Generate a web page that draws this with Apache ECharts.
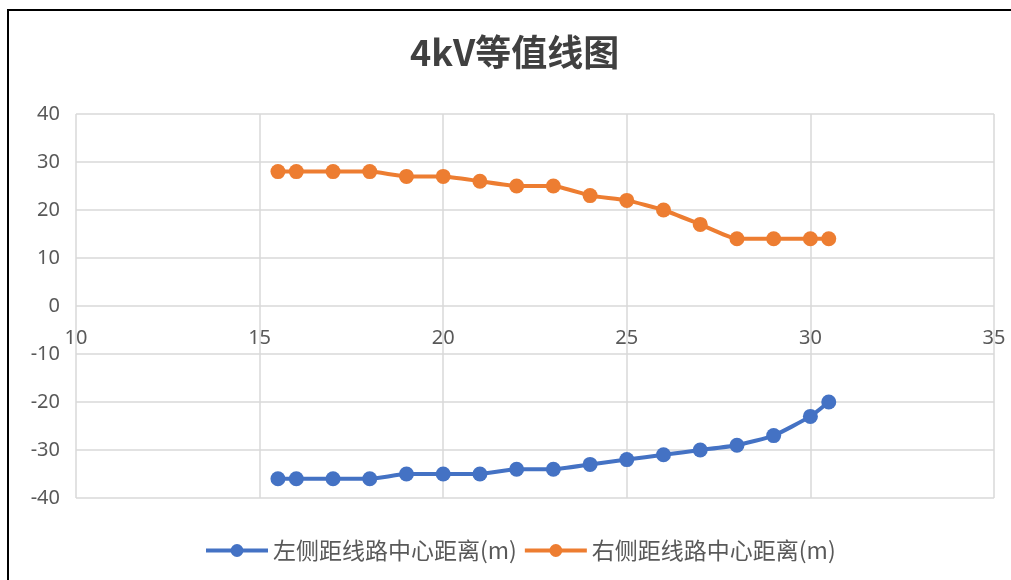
<!DOCTYPE html>
<html>
<head>
<meta charset="utf-8">
<script src="https://cdn.jsdelivr.net/npm/echarts@6/dist/echarts.min.js"></script>
<style>
  html, body { margin: 0; padding: 0; background: #fff; }
  #chart { width: 1011px; height: 580px; }
</style>
</head>
<body>
<div id="chart"></div>
<script>
// distance along the line (x) and offsets on each side (y)
const xValues = [15.5, 16, 17, 18, 19, 20, 21, 22, 23, 24, 25, 26, 27, 28, 29, 30, 30.5];
const leftDist = [-36, -36, -36, -36, -35, -35, -35, -34, -34, -33, -32, -31, -30, -29, -27, -23, -20];
const rightDist = [28, 28, 28, 28, 27, 27, 26, 25, 25, 23, 22, 20, 17, 14, 14, 14, 14];
const seriesNames = ["左侧距线路中心距离(m)", "右侧距线路中心距离(m)"];
const colors = ["#4472c4", "#ed7d31"];

const font = "'Noto Sans', 'Noto Sans CJK SC', sans-serif";
const cjkFont = "'Noto Sans CJK SC', sans-serif";
const textColor = "#595959";
const gridColor = "#d9d9d9";

const chart = echarts.init(document.getElementById("chart"), null, { renderer: "canvas" });

const pairs = (ys) => xValues.map((x, i) => [x, ys[i]]);

const makeSeries = (name, ys, color) => ({
  name,
  type: "line",
  data: pairs(ys),
  symbol: "circle",
  symbolSize: 15,
  smooth: 0.15,
  lineStyle: { color, width: 4 },
  itemStyle: { color },
  animation: false,
});

chart.setOption({
  backgroundColor: "#fff",
  color: colors,
  graphic: [
    {
      type: "rect",
      shape: { x: 8, y: 10, width: 1100, height: 700 },
      style: { fill: "none", stroke: "#000", lineWidth: 2 },
      silent: true,
    },
  ],
  title: {
    text: "4kV等值线图",
    left: 405,
    top: 29,
    textStyle: { fontFamily: cjkFont, fontSize: 36, fontWeight: "bold", color: "#404040" },
  },
  grid: { left: 76, right: 17, top: 114, bottom: 82 },
  xAxis: {
    type: "value",
    min: 10,
    max: 35,
    interval: 5,
    axisLine: { show: false },
    axisTick: { show: false },
    // labels sit just under the y = 0 line, as the axis crosses there
    axisLabel: { color: textColor, fontFamily: font, fontSize: 20, margin: -170 },
    splitLine: { show: true, lineStyle: { color: gridColor, width: 1.5 } },
  },
  yAxis: {
    type: "value",
    min: -40,
    max: 40,
    interval: 10,
    axisLine: { show: false },
    axisTick: { show: false },
    axisLabel: { color: textColor, fontFamily: font, fontSize: 20, margin: 16 },
    splitLine: { show: true, lineStyle: { color: gridColor, width: 1.5 } },
  },
  legend: {
    bottom: 13,
    left: 199,
    itemWidth: 62,
    itemHeight: 16,
    itemGap: 6,
    lineStyle: { width: 4 },
    textStyle: { color: textColor, fontFamily: cjkFont, fontSize: 23 },
    data: seriesNames,
  },
  series: [
    makeSeries(seriesNames[0], leftDist, colors[0]),
    makeSeries(seriesNames[1], rightDist, colors[1]),
  ],
});
</script>
</body>
</html>
